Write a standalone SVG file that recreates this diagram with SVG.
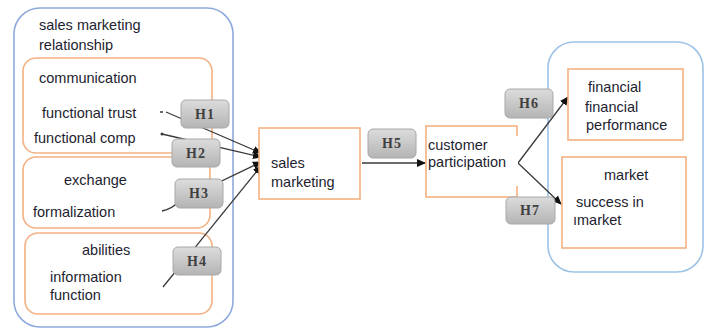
<svg xmlns="http://www.w3.org/2000/svg" width="711" height="329" viewBox="0 0 711 329">
<defs>
<linearGradient id="hg" x1="0" y1="0" x2="0" y2="1">
<stop offset="0" stop-color="#dcdcdc"/>
<stop offset="1" stop-color="#b4b4b4"/>
</linearGradient>
<marker id="ah" markerWidth="9" markerHeight="9" refX="8" refY="4.5" orient="auto" markerUnits="userSpaceOnUse">
<path d="M0,0.5 L9,4.5 L0,8.5 z" fill="#111"/>
</marker>
<style>
.t{font-family:"Liberation Sans",Arial,sans-serif;font-size:14.5px;fill:#1e1e30}
.grp{fill:#fff;stroke:#8eaadb;stroke-width:1.6}
.grp2{fill:#fff;stroke:#9dc3e6;stroke-width:1.6}
.ob{fill:#fff;stroke:#f4b183;stroke-width:1.6}
.hb{fill:url(#hg);stroke:#a8a8a8;stroke-width:1}
.ht{font-family:"Liberation Serif","Times New Roman",serif;font-size:14px;font-weight:bold;fill:#404040;letter-spacing:1px}
.c{fill:none;stroke:#3a3a3a;stroke-width:1.3}
</style>
</defs>
<g id="sales-marketing-relationship">
<rect class="grp" x="14" y="8" width="219" height="319" rx="26"/>
<text class="t" x="39" y="30">sales marketing</text>
<text class="t" x="39" y="50">relationship</text>
</g>
<g id="communication">
<rect class="ob" x="23" y="58" width="189" height="95" rx="13"/>
<text class="t" x="39" y="83">communication</text>
<text class="t" x="42" y="118">functional trust</text>
<text class="t" x="34" y="143">functional comp</text>
</g>
<g id="exchange">
<rect class="ob" x="23" y="157" width="187" height="71" rx="13"/>
<text class="t" x="64" y="185">exchange</text>
<text class="t" x="33" y="217">formalization</text>
</g>
<g id="abilities">
<rect class="ob" x="25" y="233" width="187" height="81" rx="13"/>
<text class="t" x="82" y="255">abilities</text>
<text class="t" x="50" y="282">information</text>
<text class="t" x="50" y="300">function</text>
</g>
<g id="results">
<rect class="grp2" x="548" y="42" width="155" height="230" rx="26"/>
</g>
<g id="connectors">
<path class="c" d="M160,112 L163,112 M166,112 L261,153" marker-end="url(#ah)"/>
<path class="c" d="M162,134 L261,157" marker-end="url(#ah)"/>
<circle cx="162" cy="134" r="1.5" fill="#3a3a3a"/>
<path class="c" d="M162,211 Q172,209 178,202 L261,162" marker-end="url(#ah)"/>
<path class="c" d="M163,287 L261,166" marker-end="url(#ah)"/>
<path class="c" d="M362,163 L425,163" marker-end="url(#ah)"/>
<path class="c" d="M518,163 L568,97" marker-end="url(#ah)"/>
<path class="c" d="M518,163 L561,204" marker-end="url(#ah)"/>
</g>
<g id="sales-marketing">
<rect class="ob" x="259" y="128" width="101" height="71"/>
<text class="t" x="271" y="168">sales</text>
<text class="t" x="271" y="187">marketing</text>
</g>
<g id="customer-participation">
<rect class="ob" x="426" y="126" width="91" height="71"/>
<line x1="517" y1="136" x2="517" y2="186" stroke="#fff" stroke-width="2"/>
<text class="t" x="428" y="150">customer</text>
<text class="t" x="428" y="167">participation</text>
</g>
<g id="financial">
<rect class="ob" x="568" y="69" width="115" height="71"/>
<text class="t" x="588" y="92">financial</text>
<text class="t" x="585" y="112">financial</text>
<text class="t" x="586" y="130">performance</text>
</g>
<g id="market">
<rect class="ob" x="562" y="157" width="124" height="91"/>
<text class="t" x="604" y="180">market</text>
<text class="t" x="576" y="207">success in</text>
<text class="t" x="573" y="225">ımarket</text>
</g>
<g id="H1"><rect class="hb" x="181" y="100" width="48" height="28" rx="5"/><text class="ht" x="205" y="119" text-anchor="middle">H1</text></g>
<g id="H2"><rect class="hb" x="172" y="139" width="48" height="28" rx="5"/><text class="ht" x="196" y="158" text-anchor="middle">H2</text></g>
<g id="H3"><rect class="hb" x="175" y="179" width="48" height="29" rx="5"/><text class="ht" x="199" y="198" text-anchor="middle">H3</text></g>
<g id="H4"><rect class="hb" x="173" y="247" width="48" height="28" rx="5"/><text class="ht" x="197" y="266" text-anchor="middle">H4</text></g>
<g id="H5"><rect class="hb" x="368" y="129" width="48" height="29" rx="5"/><text class="ht" x="392" y="148" text-anchor="middle">H5</text></g>
<g id="H6"><rect class="hb" x="505" y="89" width="48" height="29" rx="5"/><text class="ht" x="529" y="108" text-anchor="middle">H6</text></g>
<g id="H7"><rect class="hb" x="506" y="197" width="49" height="27" rx="5"/><text class="ht" x="530" y="215" text-anchor="middle">H7</text></g>
</svg>
